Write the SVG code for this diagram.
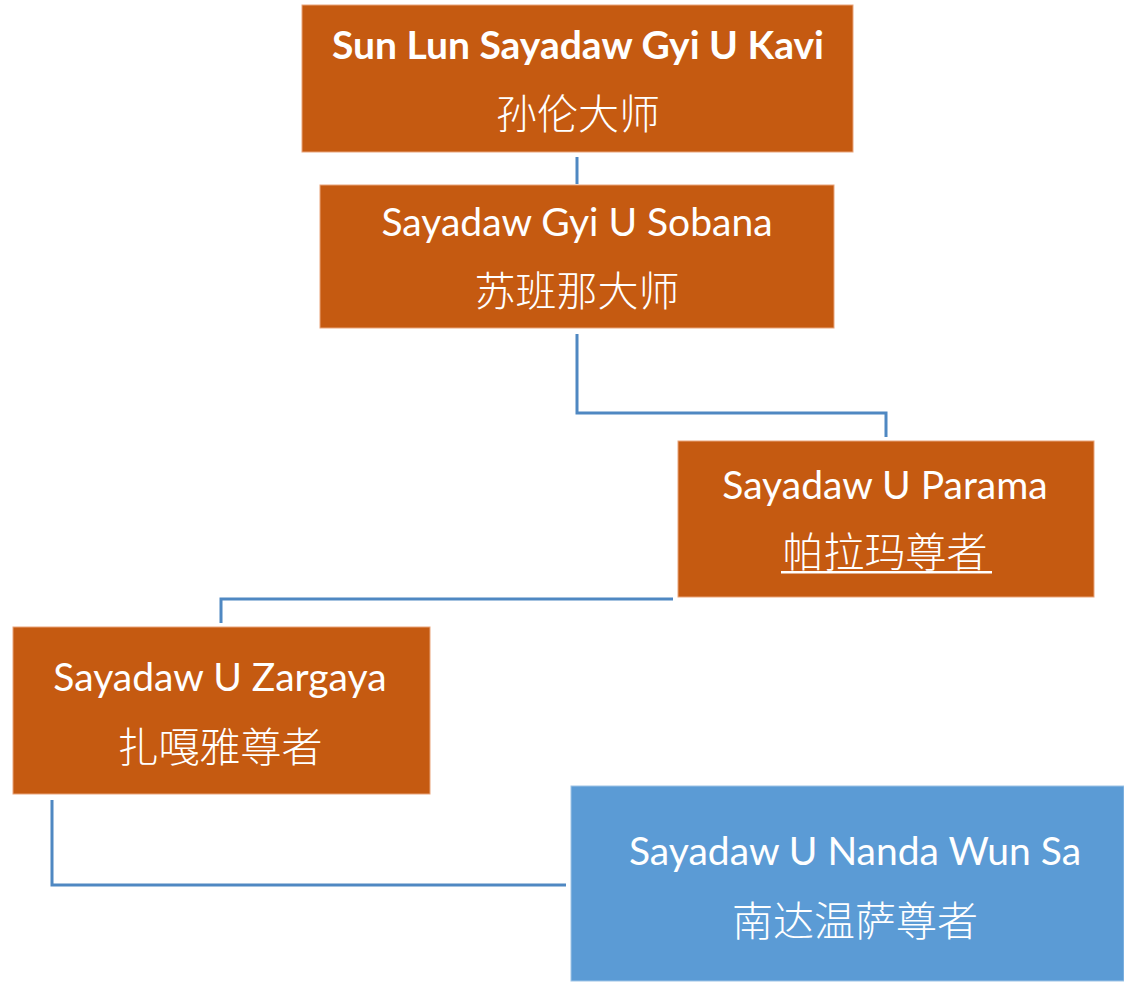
<svg xmlns="http://www.w3.org/2000/svg" width="1124" height="982" viewBox="0 0 1124 982">
<style>
.box{fill:#C55A11;stroke:#E9A47A;stroke-width:1}
.blue{fill:#5B9BD5;stroke:#9DC3E6;stroke-width:1}
.en{font-family:Lato,"Open Sans","Noto Sans CJK SC",sans-serif;font-size:39px;fill:#FFFFFF;text-anchor:middle}
.zh{font-family:"Noto Sans CJK SC",sans-serif;font-size:41px;font-weight:300;fill:#FFFFFF;text-anchor:middle}
.conn{fill:none;stroke:#4F88C2;stroke-width:3}
</style>
<rect width="1124" height="982" fill="#FFFFFF"/>
<g id="connectors">
<path class="conn" d="M577,157 V184"/>
<path class="conn" d="M577,334 V413 H886 V437"/>
<path class="conn" d="M673,599 H221 V623"/>
<path class="conn" d="M52,800 V885 H566"/>
</g>
<g id="node-kavi">
<rect class="box" x="302" y="5" width="551" height="147"/>
<text class="en" x="578" y="59" font-weight="bold">Sun Lun Sayadaw Gyi U Kavi</text>
<text class="zh" x="578" y="129">孙伦大师</text>
</g>
<g id="node-sobana">
<rect class="box" x="320" y="185" width="514" height="143"/>
<text class="en" x="577" y="236">Sayadaw Gyi U Sobana</text>
<text class="zh" x="577" y="306">苏班那大师</text>
</g>
<g id="node-parama">
<rect class="box" x="678" y="441" width="416" height="156"/>
<text class="en" x="885" y="499">Sayadaw U Parama</text>
<text class="zh" x="885" y="567">帕拉玛尊者</text>
<rect x="781" y="571" width="211" height="2.5" fill="#FFFFFF"/>
</g>
<g id="node-zargaya">
<rect class="box" x="13" y="627" width="417" height="167"/>
<text class="en" x="220" y="691">Sayadaw U Zargaya</text>
<text class="zh" x="220" y="762">扎嘎雅尊者</text>
</g>
<g id="node-nanda">
<rect class="blue" x="571" y="786" width="553" height="195"/>
<text class="en" x="855" y="865">Sayadaw U Nanda Wun Sa</text>
<text class="zh" x="855" y="936">南达温萨尊者</text>
</g>
</svg>
